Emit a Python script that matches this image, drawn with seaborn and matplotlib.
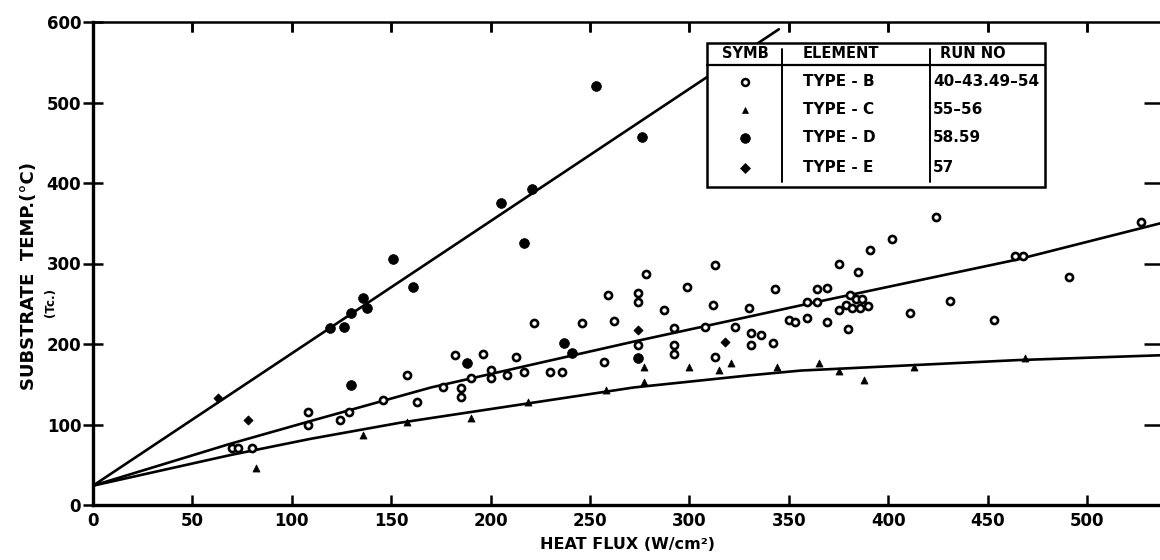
import matplotlib
matplotlib.use("Agg")
import matplotlib.pyplot as plt
import seaborn as sns
from matplotlib.patches import Rectangle

sns.set_theme(style="ticks")
plt.rcParams['font.family'] = ['DejaVu Sans']
plt.rcParams['text.color'] = 'black'
plt.rcParams['axes.labelcolor'] = 'black'
plt.rcParams['xtick.color'] = 'black'
plt.rcParams['ytick.color'] = 'black'

# ---------------- data ----------------
type_b_x = [70, 73, 80, 108, 108, 124, 129, 146, 158, 163, 176, 182, 185, 185, 190, 196,
            200, 200, 208, 213, 217, 222, 230, 236, 246, 257, 259, 262, 274, 274, 274,
            278, 287, 292, 292, 292, 299, 308, 312, 313, 313, 323, 330, 331, 331, 336,
            342, 343, 350, 353, 359, 359, 364, 364, 369, 369, 375, 375, 379, 380, 381,
            382, 384, 385, 386, 387, 390, 391, 402, 411, 424, 431, 453, 464, 468, 491, 527]
type_b_y = [71, 71, 71, 116, 99, 106, 116, 130, 161, 128, 147, 186, 145, 134, 158, 188,
            168, 158, 161, 184, 165, 226, 165, 165, 226, 178, 261, 228, 263, 252, 199,
            287, 242, 220, 199, 188, 271, 221, 248, 298, 184, 221, 245, 214, 199, 211,
            201, 268, 230, 227, 252, 232, 268, 252, 270, 227, 299, 242, 248, 219, 261,
            245, 256, 290, 245, 256, 247, 317, 330, 238, 358, 254, 230, 309, 309, 283, 352]

type_c_x = [82, 136, 158, 190, 219, 258, 277, 277, 300, 315, 321, 344, 365, 375, 388, 413, 469]
type_c_y = [46, 87, 103, 108, 128, 143, 153, 171, 171, 168, 176, 172, 177, 166, 155, 172, 183]

type_d_x = [119, 126, 130, 136, 138, 151, 161, 205, 217, 221, 253, 276, 130, 188, 237, 241, 274]
type_d_y = [220, 221, 238, 257, 245, 305, 271, 375, 325, 392, 520, 457, 149, 176, 201, 189, 183]

type_e_x = [63, 78, 274, 318]
type_e_y = [133, 106, 217, 203]

# fitted curves as drawn on the chart
fit_d_x = [0, 345]
fit_d_y = [24, 591]
fit_b_x = [0, 69, 109, 154, 170, 272, 330, 356, 465, 537]
fit_b_y = [24, 76, 104, 135, 146, 203, 234, 248, 305, 350]
fit_c_x = [0, 69, 109, 154, 170, 272, 330, 356, 465, 537]
fit_c_y = [24, 62, 82, 102, 108, 146, 161, 167, 180, 186]

x_ticks = [0, 50, 100, 150, 200, 250, 300, 350, 400, 450, 500]
y_ticks = [0, 100, 200, 300, 400, 500, 600]

legend_header = ["SYMB", "ELEMENT", "RUN NO"]
legend_elements = ["TYPE - B", "TYPE - C", "TYPE - D", "TYPE - E"]
legend_runs = ["40\u201343.49\u201354", "55\u201356", "58.59", "57"]

# ---------------- figure ----------------
W, H = 1160, 560
fig = plt.figure(figsize=(W / 100, H / 100), dpi=100)
fig.patch.set_facecolor("white")
ax = fig.add_axes([93 / W, 1 - 505 / H, 1069 / W, 483 / H])
ax.set_facecolor("white")

for fx, fy in [(fit_d_x, fit_d_y), (fit_b_x, fit_b_y), (fit_c_x, fit_c_y)]:
    sns.lineplot(x=fx, y=fy, ax=ax, color="black", linewidth=1.9,
                 sort=False, estimator=None, zorder=2)

sns.scatterplot(x=type_b_x, y=type_b_y, ax=ax, marker="o", s=26, color="white",
                edgecolor="black", linewidth=1.9, zorder=3)
sns.scatterplot(x=type_c_x, y=type_c_y, ax=ax, marker="^", s=26, color="black",
                edgecolor="black", linewidth=0.5, zorder=3)
sns.scatterplot(x=type_d_x, y=type_d_y, ax=ax, marker="o", s=50, color="black",
                edgecolor="black", linewidth=0.5, zorder=3)
sns.scatterplot(x=type_e_x, y=type_e_y, ax=ax, marker="D", s=22, color="black",
                edgecolor="black", linewidth=0.5, zorder=3)

ax.set_xlim(0, 537.7)
ax.set_ylim(0, 600)

ax.set_xticks(x_ticks)
ax.set_xticklabels([str(v) for v in x_ticks], fontsize=12, fontweight="bold")
ax.set_yticks(y_ticks)
ax.set_yticklabels([str(v) for v in y_ticks], fontsize=12, fontweight="bold")
ax.tick_params(axis="x", which="both", direction="in", length=7, width=1.8,
               top=True, bottom=True, pad=5, colors="black")
ax.tick_params(axis="y", which="both", direction="inout", length=15, width=1.8,
               left=True, right=False, pad=1, colors="black")

# top / right inward ticks
axt = ax.secondary_xaxis("top")
axt.set_xticks(x_ticks[1:])
axt.tick_params(direction="in", length=7, width=1.8, labeltop=False)
axr = ax.secondary_yaxis("right")
axr.set_yticks(y_ticks[1:-1])
axr.tick_params(direction="in", length=13, width=1.8, labelright=False)
for a in (axt, axr):
    for s in a.spines.values():
        s.set_visible(False)

for side, lw in [("left", 2.4), ("bottom", 2.4), ("top", 1.8), ("right", 1.8)]:
    ax.spines[side].set_color("black")
    ax.spines[side].set_linewidth(lw)
    ax.spines[side].set_visible(True)

ax.set_xlabel("HEAT FLUX (W/cm\u00b2)", fontsize=11.5, fontweight="bold", labelpad=5)
ax.set_ylabel("SUBSTRATE  TEMP.(\u00b0C)", fontsize=13, fontweight="bold")
ax.yaxis.set_label_coords(-0.051, 0.475)
ax.text(-0.040, 0.42, "(Tc.)", transform=ax.transAxes, rotation=90,
        fontsize=8.5, fontweight="bold", ha="center", va="center")

# ---------------- legend table ----------------
def fx_(px):
    return (px - 93) / 1069


def fy_(py):
    return (505 - py) / 483


bx0, bx1 = fx_(707), fx_(1045)
by0, by1 = fy_(187), fy_(43)
ax.add_patch(Rectangle((bx0, by0), bx1 - bx0, by1 - by0, transform=ax.transAxes,
                       facecolor="white", edgecolor="black", linewidth=1.8, zorder=5,
                       clip_on=False))
hy = fy_(65)
ax.plot([bx0, bx1], [hy, hy], transform=ax.transAxes, color="black", lw=1.6, zorder=6)
for cx in (fx_(782), fx_(930)):
    ax.plot([cx, cx], [by0 + 0.01, by1 - 0.012], transform=ax.transAxes,
            color="black", lw=1.4, zorder=6)

head_y = fy_(54)
ax.text(fx_(745), head_y, legend_header[0], transform=ax.transAxes,
        ha="center", va="center", fontsize=10.5, fontweight="bold", zorder=7)
ax.text(fx_(803), head_y, legend_header[1], transform=ax.transAxes,
        ha="left", va="center", fontsize=10.5, fontweight="bold", zorder=7)
ax.text(fx_(940), head_y, legend_header[2], transform=ax.transAxes,
        ha="left", va="center", fontsize=10.5, fontweight="bold", zorder=7)

row_py = [82, 110, 138, 168]
sym_styles = [dict(marker="o", ms=5, mfc="white", mec="black", mew=1.8),
              dict(marker="^", ms=5, mfc="black", mec="black", mew=0.5),
              dict(marker="o", ms=7, mfc="black", mec="black", mew=0.5),
              dict(marker="D", ms=5.5, mfc="black", mec="black", mew=0.5)]
for py, el, run, st in zip(row_py, legend_elements, legend_runs, sym_styles):
    ry = fy_(py)
    ax.plot([fx_(745)], [ry], transform=ax.transAxes, linestyle="none",
            zorder=7, clip_on=False, **st)
    ax.text(fx_(803), ry, el, transform=ax.transAxes, ha="left", va="center",
            fontsize=11, fontweight="bold", zorder=7)
    ax.text(fx_(933), ry, run, transform=ax.transAxes, ha="left", va="center",
            fontsize=11, fontweight="bold", zorder=7)

fig.savefig("out.png", dpi=100, facecolor="white")
